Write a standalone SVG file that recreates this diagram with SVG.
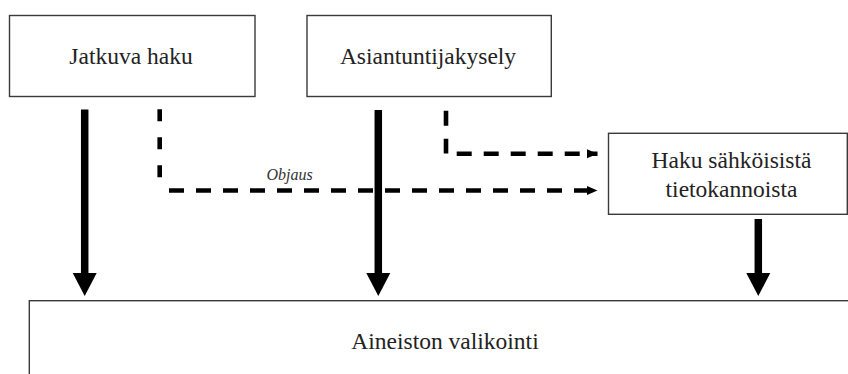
<svg xmlns="http://www.w3.org/2000/svg" width="848" height="374" viewBox="0 0 848 374">
<defs>
<style>
.box{fill:#fff;stroke:#3a3a3a;stroke-width:1.4}
.lbl{font-size:23.5px;fill:#222;text-anchor:middle}
.it{font-size:16px;font-style:italic;fill:#333;text-anchor:middle}
.thick{stroke:#000;stroke-width:7.5;fill:none}
.dash{stroke:#000;stroke-width:4.6;fill:none;stroke-dasharray:15 12}
.head{fill:#000}
</style>
<marker id="sm" markerUnits="userSpaceOnUse" markerWidth="11" markerHeight="10" refX="10.5" refY="4.5" orient="auto" viewBox="0 0 11 9">
<path d="M0,0 L10.5,4.5 L0,9 Z" fill="#000"/>
</marker>
</defs>
<rect width="848" height="374" fill="#fff"/>
<g id="connectors">
<line class="thick" x1="84.7" y1="109.5" x2="84.7" y2="274"/>
<path class="head" d="M72.7,273 L96.7,273 L84.7,296 Z"/>
<line class="thick" x1="378.3" y1="110" x2="378.3" y2="274"/>
<path class="head" d="M366.3,273 L390.3,273 L378.3,296 Z"/>
<line class="thick" x1="758.3" y1="219" x2="758.3" y2="274"/>
<path class="head" d="M746.3,273 L770.3,273 L758.3,296 Z"/>
<line class="dash" x1="159.7" y1="109.3" x2="159.7" y2="180" style="stroke-dasharray:12 16"/>
<line class="dash" x1="169" y1="190.5" x2="597.5" y2="190.5" marker-end="url(#sm)"/>
<line class="dash" x1="446" y1="110.7" x2="446" y2="153.5" style="stroke-dasharray:15 13"/>
<line class="dash" x1="456.7" y1="153.7" x2="597.5" y2="153.7" marker-end="url(#sm)"/>
<text class="it" font-family="Liberation Serif, DejaVu Serif, serif" x="289.5" y="180">Objaus</text>
</g>
<g id="jatkuva" font-family="Liberation Serif, DejaVu Serif, serif">
<rect class="box" x="9.5" y="15.5" width="245.5" height="81"/>
<text class="lbl" x="131" y="64">Jatkuva haku</text>
</g>
<g id="asiantuntija" font-family="Liberation Serif, DejaVu Serif, serif">
<rect class="box" x="307" y="15.5" width="244.3" height="81"/>
<text class="lbl" x="428" y="64">Asiantuntijakysely</text>
</g>
<g id="haku" font-family="Liberation Serif, DejaVu Serif, serif">
<rect class="box" x="608.5" y="133.3" width="238.8" height="81"/>
<text class="lbl" x="731.5" y="167.7">Haku sähköisistä</text>
<text class="lbl" x="731.5" y="196.7">tietokannoista</text>
</g>
<g id="aineisto" font-family="Liberation Serif, DejaVu Serif, serif">
<rect class="box" x="29.3" y="300.7" width="832" height="90"/>
<text class="lbl" x="445" y="349.3">Aineiston valikointi</text>
</g>
</svg>
